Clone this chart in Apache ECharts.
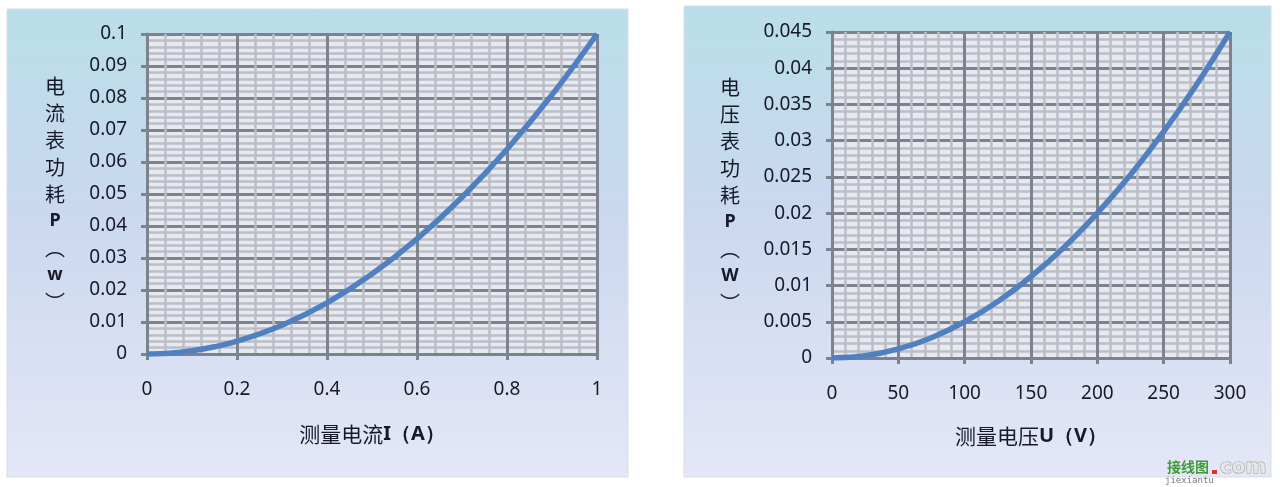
<!DOCTYPE html>
<html><head><meta charset="utf-8">
<script src="https://cdn.jsdelivr.net/npm/echarts@6/dist/echarts.min.js"></script>
<style>html,body{margin:0;padding:0;background:#fff}#c{width:1280px;height:487px}</style>
</head><body><div id="c"></div>
<script>
// Left chart: ammeter power loss vs measured current
const currentI = [0, 0.05, 0.1, 0.15, 0.2, 0.3, 0.4, 0.5, 0.6, 0.7, 0.8, 0.9, 1];
const currentP = [0, 0.00025, 0.001, 0.00225, 0.004, 0.009, 0.016, 0.025, 0.036, 0.049, 0.064, 0.081, 0.1];
// Right chart: voltmeter power loss vs measured voltage
const voltageU = [0, 25, 50, 75, 100, 125, 150, 175, 200, 225, 250, 275, 300];
const voltageP = [0, 0.0003, 0.00125, 0.0028, 0.005, 0.0078, 0.01125, 0.0153, 0.02, 0.0253, 0.03125, 0.0378, 0.045];

const leftXName = ['测量电流', 'I（A）'];
const leftYName = ['电', '流', '表', '功', '耗', 'P', '︵', 'w', '︶'];
const rightXName = ['测量电压', 'U（V）'];
const rightYName = ['电', '压', '表', '功', '耗', 'P', '︵', 'W', '︶'];

const chart = echarts.init(document.getElementById('c'), null, {renderer: 'canvas'});

const MAJOR = '#7d838d', MINOR = '#bcbec7', TXT = '#16192a';
const cjk = '"Noto Sans CJK SC", sans-serif';
const lat = '"Noto Sans", sans-serif';

function yNameRich(chars) {
  return chars.map(c => /[A-Za-z]/.test(c) ? '{b|' + c + '}' : '{a|' + c + '}').join('\n');
}
const nameRich = {
  a: {fontFamily: cjk, fontSize: 20, color: TXT, lineHeight: 27, align: 'center'},
  b: {fontFamily: lat, fontSize: 18, fontWeight: 'bold', color: TXT, lineHeight: 27, align: 'center'}
};

function xAxisCfg(min, max, interval, name, gap) {
  return {
    type: 'value', min: min, max: max, interval: interval,
    name: '{a|' + name[0] + '}{b|' + name[1] + '}', nameLocation: 'middle', nameGap: gap,
    nameTextStyle: {rich: {
      a: {fontFamily: cjk, fontSize: 21, color: TXT},
      b: {fontFamily: lat, fontSize: 20, fontWeight: 'bold', color: TXT}
    }},
    axisLine: {show: true, onZero: false, lineStyle: {color: MAJOR, width: 3}},
    axisTick: {show: true, inside: false, length: 6, lineStyle: {color: MAJOR, width: 3}},
    axisLabel: {margin: 26, fontFamily: lat, fontSize: 19, color: TXT},
    splitLine: {show: true, lineStyle: {color: MAJOR, width: 3}},
    minorTick: {show: false, splitNumber: 5},
    minorSplitLine: {show: true, lineStyle: {color: MINOR, width: 2.5}}
  };
}
function yAxisCfg(min, max, interval, chars, gap) {
  return {
    type: 'value', min: min, max: max, interval: interval,
    name: yNameRich(chars), nameLocation: 'middle', nameGap: gap, nameRotate: 0,
    nameTextStyle: {align: 'center', verticalAlign: 'middle', rich: nameRich},
    axisLine: {show: true, onZero: false, lineStyle: {color: MAJOR, width: 3}},
    axisTick: {show: true, inside: false, length: 6, lineStyle: {color: MAJOR, width: 3}},
    axisLabel: {margin: 20, fontFamily: lat, fontSize: 19, color: TXT},
    splitLine: {show: true, lineStyle: {color: MAJOR, width: 3}},
    minorTick: {show: false, splitNumber: 5},
    minorSplitLine: {show: true, lineStyle: {color: MINOR, width: 2.5}}
  };
}

const panelFill = new echarts.graphic.LinearGradient(0, 0, 0, 1, [
  {offset: 0, color: '#b9dee9'},
  {offset: 0.45, color: '#cbd8ef'},
  {offset: 1, color: '#e4e7f7'}
]);

chart.setOption({
  backgroundColor: '#ffffff',
  animation: false,
  graphic: [
    {type: 'rect', z: -10, shape: {x: 7, y: 9, width: 621, height: 468}, style: {fill: panelFill, stroke: '#d8dde6', lineWidth: 1}},
    {type: 'rect', z: -10, shape: {x: 684, y: 6, width: 587, height: 471}, style: {fill: panelFill, stroke: '#d8dde6', lineWidth: 1}},
    {type: 'text', z: 10, x: 1167, y: 460, style: {text: '接线图', fontFamily: cjk, fontSize: 14, fill: '#3f9a3a', fontWeight: 'bold'}},
    {type: 'text', z: 10, x: 1165, y: 476, style: {text: 'jiexiantu', fontFamily: '"DejaVu Sans Mono", monospace', fontSize: 9, fill: '#777'}},
    {type: 'rect', z: 10, shape: {x: 1212, y: 470, width: 5, height: 4}, style: {fill: '#e0302a'}},
    {type: 'text', z: 10, x: 1220, y: 458, style: {text: 'com', fontFamily: '"DejaVu Sans", sans-serif', fontSize: 20, fontWeight: 'bold', fill: '#e6e6e6', stroke: '#999', lineWidth: 1}}
  ],
  grid: [
    {left: 147, top: 34, width: 450, height: 320, show: true, backgroundColor: '#e7e9f0', borderWidth: 0},
    {left: 832, top: 32, width: 398, height: 326, show: true, backgroundColor: '#e7e9f0', borderWidth: 0}
  ],
  xAxis: [
    Object.assign(xAxisCfg(0, 1, 0.2, leftXName, 70), {gridIndex: 0}),
    Object.assign(xAxisCfg(0, 300, 50, rightXName, 68), {gridIndex: 1})
  ],
  yAxis: [
    Object.assign(yAxisCfg(0, 0.1, 0.01, leftYName, 92), {gridIndex: 0}),
    Object.assign(yAxisCfg(0, 0.045, 0.005, rightYName, 102), {gridIndex: 1})
  ],
  series: [
    {type: 'line', xAxisIndex: 0, yAxisIndex: 0, smooth: 0.4, showSymbol: false, z: 5,
     lineStyle: {color: '#5080c0', width: 5.5},
     data: currentI.map((x, i) => [x, currentP[i]])},
    {type: 'line', xAxisIndex: 1, yAxisIndex: 1, smooth: 0.4, showSymbol: false, z: 5,
     lineStyle: {color: '#5080c0', width: 5.5},
     data: voltageU.map((x, i) => [x, voltageP[i]])}
  ]
});
</script>
</body></html>
